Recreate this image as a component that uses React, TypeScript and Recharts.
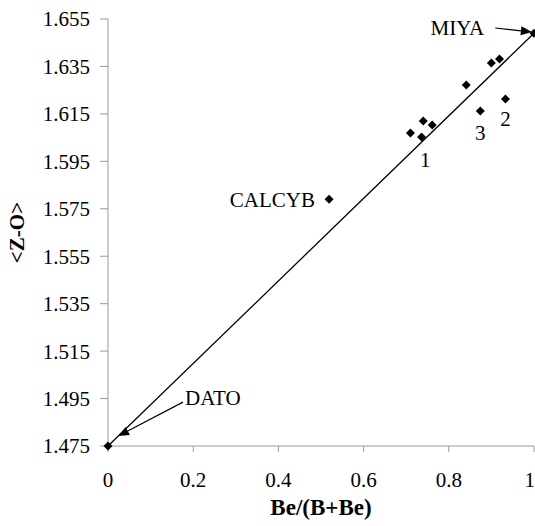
import { ScatterChart, Scatter, XAxis, YAxis, ReferenceLine, ReferenceDot } from "recharts";

// Be/(B+Be) vs <Z-O>
const beRatio = [0, 1, 0.519, 0.71, 0.736, 0.74, 0.761, 0.841, 0.9, 0.919, 0.874, 0.933];
const zoDist = [1.475, 1.649, 1.579, 1.6069, 1.6053, 1.612, 1.6103, 1.6272, 1.6364, 1.6381, 1.6162, 1.6213];

const xTicks = [0, 0.2, 0.4, 0.6, 0.8, 1];
const yTicks = [1.475, 1.495, 1.515, 1.535, 1.555, 1.575, 1.595, 1.615, 1.635, 1.655];

// fitted line end points
const fitX = [0, 1];
const fitY = [1.475, 1.649];

// text annotations
const noteText = ["MIYA", "DATO", "CALCYB", "1", "2", "3"];
const noteX = [0.757, 0.181, 0.486, 0.745, 0.933, 0.874];
const noteY = [1.6482, 1.4923, 1.5757, 1.5926, 1.6099, 1.604];
const noteAnchor = ["start", "start", "end", "middle", "middle", "middle"];

// arrows: [fromX, fromY, toX, toY]
const arrows = [
  [0.909, 1.6512, 0.995, 1.6495],
  [0.176, 1.4935, 0.0235, 1.4792],
];

const data = beRatio.map((x, i) => ({ x, y: zoDist[i] }));

const FONT = "Liberation Serif, DejaVu Serif, serif";
const AXIS = "#9a9a9a";

function Diamond(props: any) {
  const { cx, cy } = props;
  const r = 4.5;
  return <polygon points={`${cx},${cy - r} ${cx + r},${cy} ${cx},${cy + r} ${cx - r},${cy}`} fill="#000" />;
}

function Arrow(props: any) {
  const { x1, y1, x2, y2 } = props;
  const dx = x2 - x1;
  const dy = y2 - y1;
  const len = Math.sqrt(dx * dx + dy * dy);
  const ux = dx / len;
  const uy = dy / len;
  const hl = 11;
  const hw = 4.5;
  const bx = x2 - ux * hl;
  const by = y2 - uy * hl;
  const pts = `${x2},${y2} ${bx - uy * hw},${by + ux * hw} ${bx + uy * hw},${by - ux * hw}`;
  return (
    <g>
      <line x1={x1} y1={y1} x2={bx} y2={by} stroke="#000" strokeWidth={1.2} />
      <polygon points={pts} fill="#000" />
    </g>
  );
}

export default function App() {
  return (
    <div style={{ position: "absolute", left: 0, top: 0, fontFamily: FONT }}>
      <ScatterChart width={535} height={526} margin={{ top: 19, right: 1, bottom: 0, left: 0 }} style={{ fontFamily: FONT }}>
        <XAxis
          type="number"
          dataKey="x"
          domain={[0, 1]}
          ticks={xTicks}
          tickFormatter={(v) => String(v)}
          height={80}
          stroke={AXIS}
          tickSize={6}
          tickMargin={20}
          tick={{ fill: "#000", fontSize: 21, style: { fontFamily: FONT } }}
          label={{ value: "Be/(B+Be)", position: "insideBottom", offset: 11, fill: "#000", fontSize: 23, fontWeight: "bold", style: { fontFamily: FONT } }}
        />
        <YAxis
          type="number"
          dataKey="y"
          domain={[1.475, 1.655]}
          ticks={yTicks}
          tickFormatter={(v) => v.toFixed(3)}
          width={108}
          stroke={AXIS}
          tickSize={8}
          tickMargin={10}
          tick={{ fill: "#000", fontSize: 21, style: { fontFamily: FONT } }}
          label={{ value: "<Z-O>", angle: -90, position: "insideLeft", offset: 17, fill: "#000", fontSize: 21, fontWeight: "bold", style: { textAnchor: "middle", fontFamily: FONT } }}
        />
        <ReferenceLine
          segment={[{ x: fitX[0], y: fitY[0] }, { x: fitX[1], y: fitY[1] }]}
          stroke="#000"
          strokeWidth={1.3}
          ifOverflow="visible"
        />
        {arrows.map((a, i) => (
          <ReferenceLine
            key={"ar" + i}
            segment={[{ x: a[0], y: a[1] }, { x: a[2], y: a[3] }]}
            ifOverflow="visible"
            shape={(p: any) => <Arrow {...p} />}
          />
        ))}
        {noteText.map((t, i) => (
          <ReferenceDot
            key={"n" + i}
            x={noteX[i]}
            y={noteY[i]}
            r={0}
            ifOverflow="visible"
            shape={(p: any) => (
              <text x={p.cx} y={p.cy} textAnchor={noteAnchor[i]} fontSize={21} style={{ fontFamily: FONT }} fill="#000">
                {t}
              </text>
            )}
          />
        ))}
        <Scatter data={data} shape={<Diamond />} isAnimationActive={false} />
      </ScatterChart>
    </div>
  );
}
